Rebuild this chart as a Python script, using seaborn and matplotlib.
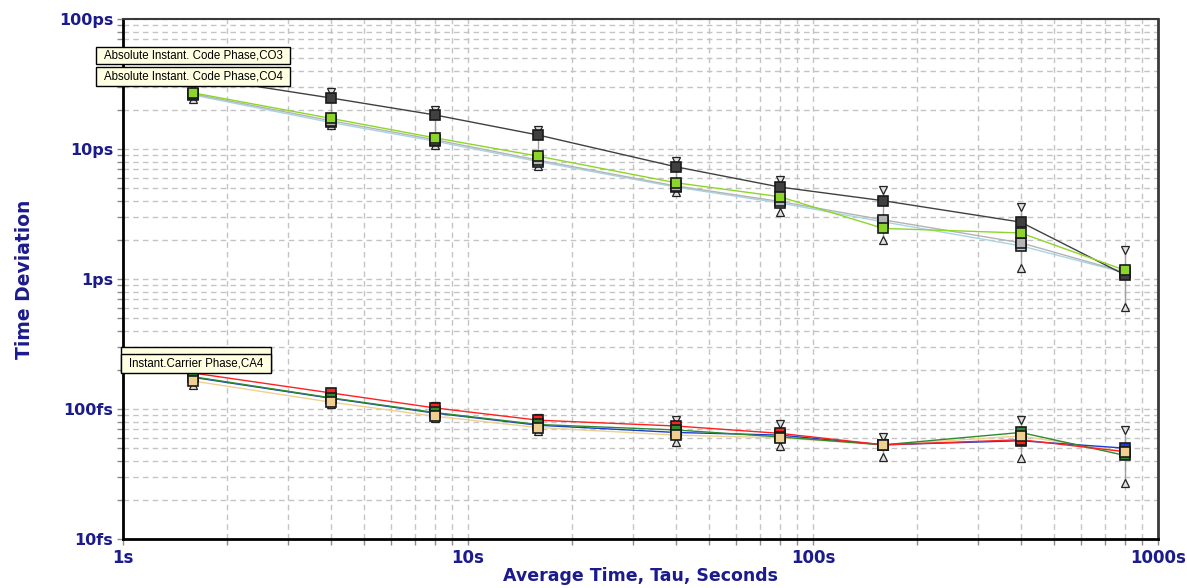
import numpy as np
import pandas as pd
import matplotlib
matplotlib.use("Agg")
import matplotlib.pyplot as plt
import seaborn as sns
from matplotlib.patches import Rectangle
from matplotlib.ticker import FixedLocator, LogLocator, NullFormatter

# averaging times (s)
tau_s = [1.6, 4, 8, 16, 40, 80, 160, 400, 800]

# code-phase time deviation (ps)
co1_ps = [26.5, 16.5, 11.8, 8.2, 5.2, 3.95, 2.85, 1.90, 1.13]
co2_ps = [26.0, 16.0, 11.5, 8.0, 5.1, 3.85, 2.75, 1.80, 1.12]
co3_ps = [36.0, 24.7, 18.3, 12.8, 7.3, 5.1, 4.0, 2.74, 1.08]
co4_ps = [27.0, 17.2, 12.2, 8.8, 5.5, 4.3, 2.45, 2.26, 1.17]
co_err_hi_ps = [30.5, 27.3, 19.8, 14.0, 8.1, 5.8, 4.85, 3.6, 1.68]
co_err_lo_ps = [24.2, 15.3, 10.8, 7.4, 4.7, 3.3, 2.0, 1.22, 0.61]

# carrier-phase time deviation (fs)
ca1_fs = [189, 133, 102, 82, 74, 65, 53, 58, 47]
ca2_fs = [175, 121, 93, 75, 66, 63, 53, 57, 50]
ca3_fs = [177, 122, 94, 76, 69, 61, 53, 66, 44]
ca4_fs = [164, 113, 88, 72, 63, 60, 53, 62, 47]
ca_err_hi_fs = [196, 135, 105, 85, 82, 76, 61, 82, 69]
ca_err_lo_fs = [153, 110, 86, 68, 56, 52, 42.5, 42, 27]

y_ticks_ps = [0.01, 0.1, 1, 10, 100]
y_tick_labels = ["10fs", "100fs", "1ps", "10ps", "100ps"]
x_ticks_s = [1, 10, 100, 1000]
x_tick_labels = ["1s", "10s", "100s", "1000s"]

co_names = ["CO1", "CO2", "CO3", "CO4"]
ca_names = ["CA1", "CA2", "CA3", "CA4"]
colors = {
    "CO1": "#b4b4b4", "CO2": "#a8d4e6", "CO3": "#404040", "CO4": "#8cd629",
    "CA1": "#ff2020", "CA2": "#1a3fd0", "CA3": "#2e8b2e", "CA4": "#f0d090",
}

frames = []
for name, vals in zip(co_names, [co1_ps, co2_ps, co3_ps, co4_ps]):
    frames.append(pd.DataFrame({"tau": tau_s, "tdev": vals, "series": name}))
for name, vals in zip(ca_names, [ca1_fs, ca2_fs, ca3_fs, ca4_fs]):
    frames.append(pd.DataFrame({"tau": tau_s, "tdev": np.array(vals) / 1000.0, "series": name}))
df = pd.concat(frames, ignore_index=True)

sns.set_theme(style="white")
plt.rcParams["font.family"] = ["DejaVu Sans"]

W, H = 1187, 588
fig = plt.figure(figsize=(W / 100, H / 100), dpi=100)
ax = fig.add_axes([123 / W, 1 - 539 / H, (1158 - 123) / W, (539 - 19) / H])
ax.set_xscale("log")
ax.set_yscale("log")
ax.set_xlim(1, 1000)
ax.set_ylim(0.01, 100)

# grid
ax.xaxis.set_major_locator(FixedLocator(x_ticks_s))
ax.yaxis.set_major_locator(FixedLocator(y_ticks_ps))
ax.xaxis.set_minor_locator(LogLocator(base=10, subs=np.arange(2, 10), numticks=20))
ax.yaxis.set_minor_locator(LogLocator(base=10, subs=np.arange(2, 10), numticks=20))
ax.yaxis.set_minor_formatter(NullFormatter())
ax.xaxis.set_minor_formatter(NullFormatter())
ax.grid(True, which="both", color="#c4c4c4", linestyle=(0, (4, 3)), linewidth=1.0)
ax.set_axisbelow(True)

# lines
sns.lineplot(data=df, x="tau", y="tdev", hue="series", palette=colors,
             hue_order=["CO2", "CO1", "CO3", "CO4", "CA4", "CA2", "CA3", "CA1"],
             linewidth=1.0, legend=False, ax=ax, estimator=None, sort=False)

# error whiskers with triangle caps
def whiskers(lo, hi):
    ax.vlines(tau_s, lo, hi, colors="#a0a0a0", linewidth=1.0, zorder=4)
    ax.plot(tau_s, hi, linestyle="none", marker="v", markersize=5.5,
            markerfacecolor="#e0e0e0", markeredgecolor="#222222", markeredgewidth=0.9, zorder=5)
    ax.plot(tau_s, lo, linestyle="none", marker="^", markersize=5.5,
            markerfacecolor="#e0e0e0", markeredgecolor="#222222", markeredgewidth=0.9, zorder=5)

whiskers(co_err_lo_ps, co_err_hi_ps)
whiskers(np.array(ca_err_lo_fs) / 1000.0, np.array(ca_err_hi_fs) / 1000.0)

# point markers
for name in ["CO2", "CO1", "CO3", "CO4", "CA2", "CA1", "CA3", "CA4"]:
    sub = df[df["series"] == name]
    ax.plot(sub["tau"], sub["tdev"], linestyle="none", marker="s", markersize=7,
            markerfacecolor=colors[name], markeredgecolor="#1a1a1a", markeredgewidth=1.2, zorder=6)

# axes frame
for side in ["left", "bottom"]:
    ax.spines[side].set_color("#000000")
    ax.spines[side].set_linewidth(2.0)
ax.spines["top"].set_color("#3a3a3a")
ax.spines["top"].set_linewidth(1.5)
ax.spines["right"].set_color("#3a3a3a")
ax.spines["right"].set_linewidth(2.0)

navy = "#1b1b8c"
ax.set_xticks(x_ticks_s)
ax.set_xticklabels(x_tick_labels)
ax.set_yticks(y_ticks_ps)
ax.set_yticklabels(y_tick_labels)
ax.tick_params(axis="both", which="both", direction="out", color="#8a8a8a",
               length=4, width=1, left=True, bottom=True)
ax.tick_params(axis="y", which="major", labelsize=11.5, labelcolor=navy, pad=3)
ax.tick_params(axis="x", which="major", labelsize=12, labelcolor=navy, pad=3)
for lab in ax.get_xticklabels() + ax.get_yticklabels():
    lab.set_fontweight("bold")

ax.set_xlabel("Average Time, Tau, Seconds", fontsize=12.5, fontweight="bold", color=navy, labelpad=0)
ax.set_ylabel("Time Deviation", fontsize=13.5, fontweight="bold", color=navy, labelpad=18)

# series tags
def tag(x0, y0, x1, y1, text=None):
    r = Rectangle((x0 / W, 1 - y1 / H), (x1 - x0) / W, (y1 - y0) / H,
                  transform=fig.transFigure, facecolor="#ffffe1", edgecolor="#000000",
                  linewidth=1.0, zorder=10)
    fig.add_artist(r)
    if text:
        fig.text((x0 + 8) / W, 1 - (y0 + y1) / 2 / H, text, fontsize=8.3,
                 family=["Liberation Sans", "DejaVu Sans"], color="#000000",
                 ha="left", va="center", zorder=11)

tag(96, 47, 290, 64, "Absolute Instant. Code Phase,CO3")
tag(96, 67, 290, 86, "Absolute Instant. Code Phase,CO4")
tag(121, 347, 271, 372)
tag(121, 354, 271, 373, "Instant.Carrier Phase,CA4")

fig.savefig("out.png", dpi=100)
